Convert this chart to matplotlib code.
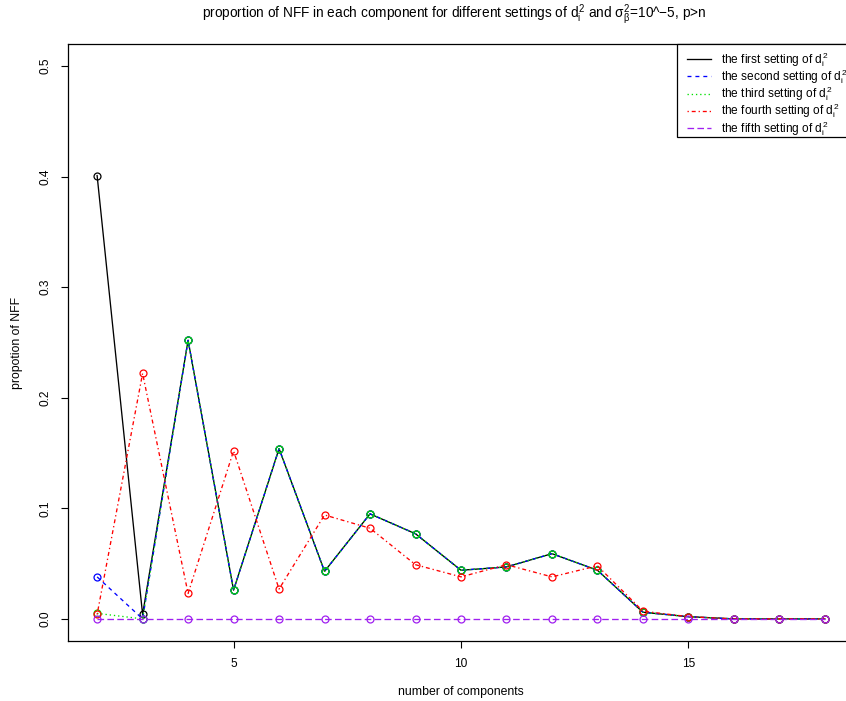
import matplotlib

matplotlib.use("Agg")

import matplotlib.pyplot as plt
from matplotlib.patches import Rectangle

plt.rcParams["font.family"] = ["Liberation Sans", "DejaVu Sans"]
plt.rcParams["mathtext.fontset"] = "custom"
plt.rcParams["mathtext.rm"] = "Liberation Sans"
plt.rcParams["mathtext.it"] = "Liberation Sans"
plt.rcParams["mathtext.bf"] = "Liberation Sans:bold"

components = list(range(2, 19))

first = [0.401, 0.004, 0.252, 0.026, 0.154, 0.043, 0.095, 0.077, 0.044,
         0.047, 0.059, 0.044, 0.006, 0.002, 0.0, 0.0, 0.0]
second = [0.038, 0.0, 0.252, 0.026, 0.154, 0.043, 0.095, 0.077, 0.044,
          0.047, 0.059, 0.044, 0.006, 0.002, 0.0, 0.0, 0.0]
third = [0.005, 0.0, 0.252, 0.026, 0.154, 0.043, 0.095, 0.077, 0.044,
         0.047, 0.059, 0.044, 0.006, 0.002, 0.0, 0.0, 0.0]
fourth = [0.004, 0.222, 0.023, 0.152, 0.027, 0.094, 0.082, 0.049, 0.038,
          0.049, 0.038, 0.048, 0.007, 0.002, 0.0, 0.0, 0.0]
fifth = [0.0] * 17

settings = ["first", "second", "third", "fourth", "fifth"]
colors = ["black", "#0000FF", "#00E000", "#FF0000", "#A020F0"]
styles = ["-", (0, (3, 3)), (0, (1, 2.2)), (0, (1, 2.2, 3, 2.2)), (0, (5, 2.5))]

fig = plt.figure(figsize=(8.46, 7.01), dpi=100)
W, H = 846, 701
# the plot region runs past the right edge of the device
ax = fig.add_axes([68 / W, 1 - 641 / H, (854 - 68) / W, (641 - 44) / H])
ax.spines["right"].set_visible(False)

series = [first, second, third, fourth, fifth]
handles = []
for name, vals, col, ls in zip(settings, series, colors, styles):
    ax.plot(components, vals, color=col, linestyle=ls, linewidth=0.95)
    ax.plot(components, vals, linestyle="none", marker="o", markersize=5,
            markerfacecolor="none", markeredgecolor=col, markeredgewidth=0.9)
    h, = ax.plot([], [], color=col, linestyle=ls, linewidth=0.95,
                 label=f"the {name} setting of " + r"$d_i^2$")
    handles.append(h)

ax.set_xlim(1.36, 18.64)
ax.set_ylim(-0.02, 0.52)
ax.set_xticks([5, 10, 15])
ax.set_yticks([0.0, 0.1, 0.2, 0.3, 0.4, 0.5])
ax.set_yticklabels(["0.0", "0.1", "0.2", "0.3", "0.4", "0.5"],
                   rotation=90, va="center")
ax.tick_params(direction="out", length=5, width=0.8, labelsize=8.6, color="black")
ax.tick_params(axis="y", pad=7)
ax.tick_params(axis="x", pad=7)
for s in ax.spines.values():
    s.set_linewidth(0.9)
    s.set_color("black")

ax.set_xlabel("number of components", fontsize=8.8, labelpad=11.5)
ax.set_ylabel("propotion of NFF", fontsize=8.8, labelpad=12)

fig.text(454 / W, 1 - 15 / H,
         r"proportion of NFF in each component for different settings of $d_i^2$"
         r" and $\sigma_\beta^2$=10^" + "\u22125, p>n",
         ha="center", va="center", fontsize=9.8)

# legend box drawn by hand so it can run off the right edge like the plot
fig.patches.append(Rectangle((677 / W, 1 - 137 / H), 300 / W, 93 / H,
                             transform=fig.transFigure, facecolor="white",
                             edgecolor="black", linewidth=0.9, zorder=5))
leg = fig.legend(handles=handles, loc="upper left",
                 bbox_to_anchor=(681 / W, 1 - 44 / H - 0.01, 200 / W, 0.01),
                 mode="expand", fontsize=8.6, frameon=False,
                 borderpad=0.5, handlelength=2.0, handletextpad=0.85,
                 labelspacing=-0.12, borderaxespad=0)
leg.set_zorder(6)

fig.savefig("out.png", dpi=100)
